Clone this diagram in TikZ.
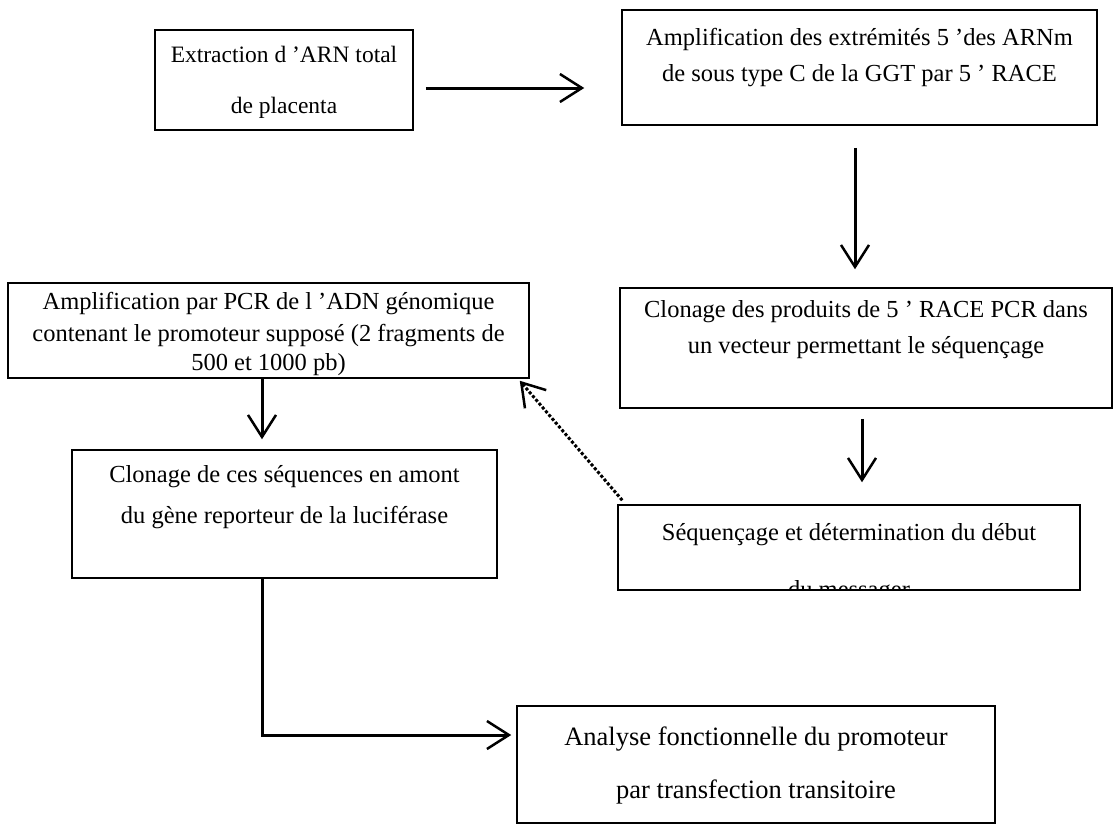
\documentclass[tikz,border=0pt]{standalone}
\usepackage{fontspec}
\setmainfont{Liberation Serif}
\usetikzlibrary{arrows.meta,calc}
\begin{document}
\begin{tikzpicture}[x={(1pt,0pt)},y={(0pt,-1pt)},
  box/.style={draw,line width=1.5pt,rectangle,inner sep=0pt},
  txt/.style={anchor=base,inner sep=0pt,font=\fontsize{24.5}{29}\selectfont},
  flow/.style={line width=3pt,-{Straight Barb[length=22pt,width=28pt,line width=2.5pt]}},
  dotflow/.style={line width=3pt,dotted,-{Straight Barb[length=22pt,width=28pt,line width=2.5pt]}},
]
\useasboundingbox[fill=white] (0,0) rectangle (1116,835);
% boxes
\node[box,minimum width=258pt,minimum height=100pt] (b1) at (284,80) {};
\node[box,minimum width=475pt,minimum height=115pt] (b2) at (859.5,67.5) {};
\node[box,minimum width=492pt,minimum height=120pt] (b3) at (866,348) {};
\node[box,minimum width=521pt,minimum height=95pt] (b4) at (268.5,330.5) {};
\node[box,minimum width=462pt,minimum height=85pt] (b5) at (849,547.5) {};
\node[box,minimum width=425pt,minimum height=128pt] (b6) at (284.5,514) {};
\node[box,minimum width=478pt,minimum height=117pt] (b7) at (756,764.5) {};
% texts
\node[txt,font=\fontsize{23.5}{28}\selectfont] (t1a) at (284,62) {Extraction d 'ARN total};
\node[txt,font=\fontsize{23.5}{28}\selectfont] (t1b) at (284,113) {de placenta};
\node[txt] (t2a) at (859.5,45) {Amplification des extrémités 5 'des ARNm};
\node[txt] (t2b) at (859.5,81) {de sous type C de la GGT par 5 ' RACE};
\node[txt] (t3a) at (866,317) {Clonage des produits de 5 ' RACE PCR dans};
\node[txt] (t3b) at (866,353) {un vecteur permettant le séquençage};
\node[txt] (t4a) at (268.5,309) {Amplification par PCR de l 'ADN génomique};
\node[txt] (t4b) at (268.5,341) {contenant le promoteur supposé (2 fragments de};
\node[txt] (t4c) at (268.5,370) {500 et 1000 pb)};
\node[txt] (t5a) at (849,540) {Séquençage et détermination du début};
\begin{scope}
\clip (b5.south west) rectangle (b5.north east);
\node[txt] (t5b) at (849,597) {du messager};
\end{scope}
\node[txt] (t6a) at (284.5,482) {Clonage de ces séquences en amont};
\node[txt] (t6b) at (284.5,523) {du gène reporteur de la luciférase};
\node[txt,font=\fontsize{26.5}{30}\selectfont] (t7a) at (756,745) {Analyse fonctionnelle du promoteur};
\node[txt,font=\fontsize{26.5}{30}\selectfont] (t7b) at (756,798) {par transfection transitoire};
% connectors
\draw[flow] ($(b1.east)+(12,8)$) -- ($(b2.west |- b1.east)+(-37,8)$);
\draw[flow] ($(b2.south)+(-4.5,22)$) -- ($(b3.north)+(-11,-18)$);
\draw[flow] ($(b3.south)+(-4,10)$) -- ($(b5.north)+(13,-22)$);
\draw[flow] ($(b4.south)+(-6.5,0)$) -- ($(b6.north)+(-22.5,-10)$);
\draw[dotflow] ($(b5.north west)+(5,-4)$) -- ($(b4.south east)+(-10,2)$);
\coordinate (e1) at (262,578);
\coordinate (e2) at (512,735);
\draw[flow] (e1 |- b6.south) |- ($(b7.west |- e2)+(-5,0)$);
\end{tikzpicture}
\end{document}
